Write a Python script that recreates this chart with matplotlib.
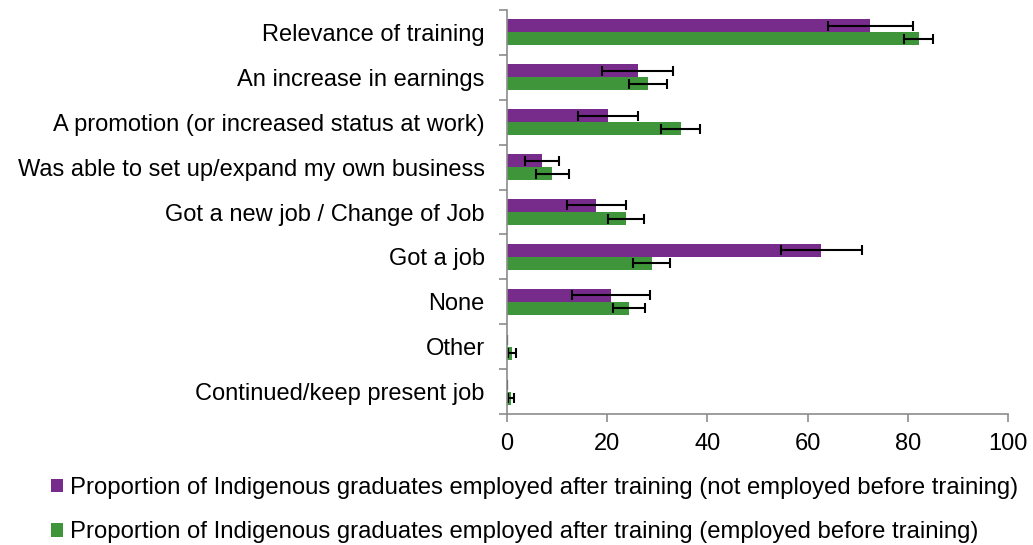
import numpy as np
import matplotlib
matplotlib.use("Agg")
import matplotlib.pyplot as plt
from matplotlib.ticker import FixedLocator

plt.rcParams['font.family'] = ['Liberation Sans', 'DejaVu Sans']

categorias = ['Relevance of training', 'An increase in earnings',
              'A promotion (or increased status at work)',
              'Was able to set up/expand my own business',
              'Got a new job / Change of Job', 'Got a job', 'None', 'Other',
              'Continued/keep present job']

nao_empregados = [72.5, 26.1, 20.1, 6.9, 17.8, 62.7, 20.8, 0, 0]
nao_empregados_err = [8.5, 7.1, 6.0, 3.4, 5.9, 8.1, 7.8, 0, 0]

empregados = [82.2, 28.1, 34.7, 9.0, 23.7, 28.9, 24.4, 0.9, 0.8]
empregados_err = [2.9, 3.8, 3.9, 3.3, 3.6, 3.7, 3.2, 0.8, 0.6]

legenda = ['Proportion of Indigenous graduates employed after training (not employed before training)',
           'Proportion of Indigenous graduates employed after training (employed before training)']

roxo = '#772b8b'
verde = '#3f9539'

fig = plt.figure(figsize=(10.33, 5.45), dpi=100)
ax = fig.add_axes([507 / 1033, 1 - 414 / 545, 501 / 1033, 404 / 545])

y = np.arange(len(categorias))
h = 0.29
err_kw = dict(ecolor='black', elinewidth=1.5, capsize=3.8, capthick=1.5)

ax.barh(y - h / 2, nao_empregados, height=h, color=roxo, xerr=nao_empregados_err,
        error_kw=err_kw, label=legenda[0])
ax.barh(y + h / 2, empregados, height=h, color=verde, xerr=empregados_err,
        error_kw=err_kw, label=legenda[1])

ax.set_ylim(len(categorias) - 0.5, -0.5)
ax.set_xlim(0, 100)
ax.set_xticks([0, 20, 40, 60, 80, 100])
ax.set_yticks(y)
ax.set_yticklabels(categorias)
ax.yaxis.set_minor_locator(FixedLocator(np.arange(-0.5, len(categorias), 1)))

ax.tick_params(axis='y', which='major', length=0, pad=16, labelsize=17)
ax.tick_params(axis='y', which='minor', length=6, color='#8c8c8c', width=1.2)
ax.tick_params(axis='x', length=6, color='#8c8c8c', width=1.2, labelsize=17, pad=8)

for lado in ['top', 'right']:
    ax.spines[lado].set_visible(False)
for lado in ['left', 'bottom']:
    ax.spines[lado].set_color('#8c8c8c')
    ax.spines[lado].set_linewidth(1.2)

ax.legend(loc='upper left', bbox_to_anchor=(51 / 1033, 1 - 477 / 545),
          bbox_transform=fig.transFigure, frameon=False, fontsize=17.2, borderpad=0,
          borderaxespad=0, handlelength=0.5, handleheight=0.5, handletextpad=0.3,
          labelspacing=0.93)

fig.savefig('out.png', dpi=100)
